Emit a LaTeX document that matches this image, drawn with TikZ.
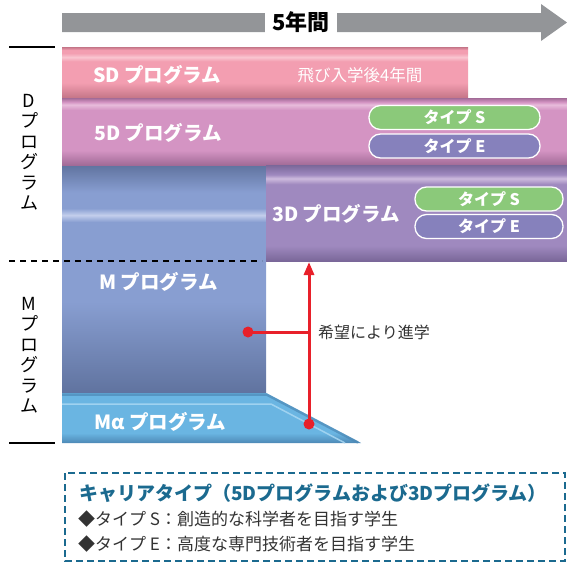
\documentclass[tikz,border=0pt]{standalone}
\usepackage{fontspec}
\setmainfont{Noto Sans CJK JP}
\usetikzlibrary{arrows.meta}
\definecolor{grayarrow}{HTML}{939598}
\definecolor{sdM}{HTML}{F39EB1}
\definecolor{sdD}{HTML}{C47587}
\definecolor{sdL}{HTML}{F9C6D1}
\definecolor{fdM}{HTML}{D494C3}
\definecolor{fdD}{HTML}{A26B97}
\definecolor{fdL}{HTML}{E8BCDB}
\definecolor{mM}{HTML}{889ED1}
\definecolor{mD}{HTML}{60739F}
\definecolor{mL}{HTML}{C3CEEC}
\definecolor{tdM}{HTML}{9F89BF}
\definecolor{tdD}{HTML}{7A6799}
\definecolor{tdL}{HTML}{CDBBDD}
\definecolor{maM}{HTML}{6AB5E2}
\definecolor{maD}{HTML}{4D89B6}
\definecolor{maL}{HTML}{A9D8F3}
\definecolor{tagS}{HTML}{8BC97A}
\definecolor{tagE}{HTML}{8681BC}
\definecolor{redc}{HTML}{E8202A}
\definecolor{boxc}{HTML}{1B6A8F}
\definecolor{txt}{HTML}{333333}
\pgfdeclareverticalshading{sdtube}{100bp}{color(0bp)=(sdD); color(25bp)=(sdD); color(40bp)=(sdM); color(61bp)=(sdM); color(65bp)=(sdL); color(69bp)=(sdM); color(72bp)=(sdM); color(75bp)=(sdD); color(100bp)=(sdD)}
\pgfdeclareverticalshading{fdtube}{100bp}{color(0bp)=(fdD); color(25bp)=(fdD); color(36bp)=(fdM); color(66bp)=(fdM); color(70bp)=(fdL); color(72bp)=(fdM); color(75bp)=(fdD); color(100bp)=(fdD)}
\pgfdeclareverticalshading{mtube}{100bp}{color(0bp)=(mD); color(25bp)=(mD); color(45bp)=(mM); color(62.5bp)=(mM); color(64bp)=(mL); color(65.5bp)=(mM); color(69bp)=(mM); color(75bp)=(mD); color(100bp)=(mD)}
\pgfdeclareverticalshading{tdtube}{100bp}{color(0bp)=(tdD); color(25bp)=(tdD); color(33bp)=(tdM); color(65bp)=(tdM); color(68bp)=(tdL); color(70bp)=(tdM); color(75bp)=(tdD); color(100bp)=(tdD)}
\pgfdeclareverticalshading{matube}{100bp}{color(0bp)=(maD); color(25bp)=(maD); color(35bp)=(maM); color(73bp)=(maM); color(75bp)=(maM); color(100bp)=(maM)}
\tikzset{
  bartext/.style={text=white, anchor=west, inner sep=0pt, font=\fontsize{19.5}{19.5}\bfseries\selectfont},
  tagbox/.style={draw=white, line width=1.3pt, rounded corners=11.5pt, minimum height=24pt, text=white, inner sep=0pt, font=\fontsize{16}{16}\bfseries\selectfont},
  sidelabel/.style={align=center, inner sep=0pt, font=\fontsize{18}{20.5}\selectfont},
  redline/.style={draw=redc, line width=3pt},
  reddot/.style={fill=redc},
  boxline/.style={anchor=west, inner sep=0pt, text=txt, font=\fontsize{17}{17}\selectfont}
}
\begin{document}
\begin{tikzpicture}[x=1pt,y=-1pt]
\useasboundingbox (0,0) rectangle (567,565);
% time arrow
\fill[grayarrow] (62,13) -- (541,13) -- (541,4) -- (567,22.5) -- (541,41) -- (541,32) -- (62,32) -- cycle;
\node[fill=white, minimum width=72pt, minimum height=24pt, inner sep=0pt, font=\fontsize{22}{22}\bfseries\selectfont] (years) at (301,22) {5年間};
% bars
\shade[shading=mtube] (62,165) rectangle (266,393);
\shade[shading=sdtube] (62,47) rectangle (468,98);
\shade[shading=fdtube] (62,98) rectangle (567,165);
\shade[shading=tdtube] (266,165) rectangle (567,261);
\shade[shading=matube] (62,393) -- (266,393) -- (361,443) -- (62,443) -- cycle;
\draw[maD, line width=2.5pt, opacity=0.7] (62,394.5) -- (266.5,394.5) -- (358,442.5);
\draw[maL, line width=1.5pt, opacity=0.85] (62,404) -- (271,404) -- (345,443);
% side marks
\draw[line width=1.3pt] (9,47) -- (55,47);
\draw[line width=1.3pt] (9,443) -- (55,443);
\draw[line width=1.2pt, dash pattern=on 6pt off 5pt] (9,261) -- (262,261);
\node[sidelabel] (dlabel) at (29,152) {D\\プ\\ロ\\グ\\ラ\\ム};
\node[sidelabel] (mlabel) at (29,355) {M\\プ\\ロ\\グ\\ラ\\ム};
% bar texts
\node[bartext] (sd) at (93,75) {SD プログラム};
\node[text=white, inner sep=0pt, font=\fontsize{16.5}{16.5}\selectfont] (skip) at (360,75) {飛び入学後4年間};
\node[bartext] (fived) at (94,133) {5D プログラム};
\node[bartext] (threed) at (272,214) {3D プログラム};
\node[bartext] (mprog) at (99,282) {M プログラム};
\node[bartext] (maprog) at (94,422) {Mα プログラム};
% tags
\node[tagbox, fill=tagS, minimum width=171pt] (fs) at (454.5,117.5) {タイプ S};
\node[tagbox, fill=tagE, minimum width=171pt] (fe) at (454.5,146) {タイプ E};
\node[tagbox, fill=tagS, minimum width=148pt] (ts) at (489,199) {タイプ S};
\node[tagbox, fill=tagE, minimum width=148pt] (te) at (489,226.5) {タイプ E};
% red arrows
\coordinate (upstart) at (309,424);
\coordinate (uptip) at (309,262);
\coordinate (mdot) at (248,332);
\coordinate (join) at (309,332);
\draw[redline, -{Triangle[length=13pt,width=10pt]}] (upstart) -- (uptip);
\draw[redline] (mdot) -- (join);
\fill[reddot] (upstart) circle (5.5pt);
\fill[reddot] (mdot) circle (5.5pt);
\node[anchor=west, inner sep=0pt, text=txt, font=\fontsize{16}{16}\selectfont] (hope) at (318,332) {希望により進学};
% legend box
\draw[boxc, line width=2.2pt, dash pattern=on 7pt off 4pt] (65,473) rectangle (565,561);
\node[anchor=west, inner sep=0pt, text=boxc, font=\fontsize{19}{19}\bfseries\selectfont] (ltitle) at (79,493) {キャリアタイプ（5Dプログラムおよび3Dプログラム）};
\node[boxline] (lineS) at (78,519) {◆タイプ S：創造的な科学者を目指す学生};
\node[boxline] (lineE) at (78,544) {◆タイプ E：高度な専門技術者を目指す学生};
\end{tikzpicture}
\end{document}
